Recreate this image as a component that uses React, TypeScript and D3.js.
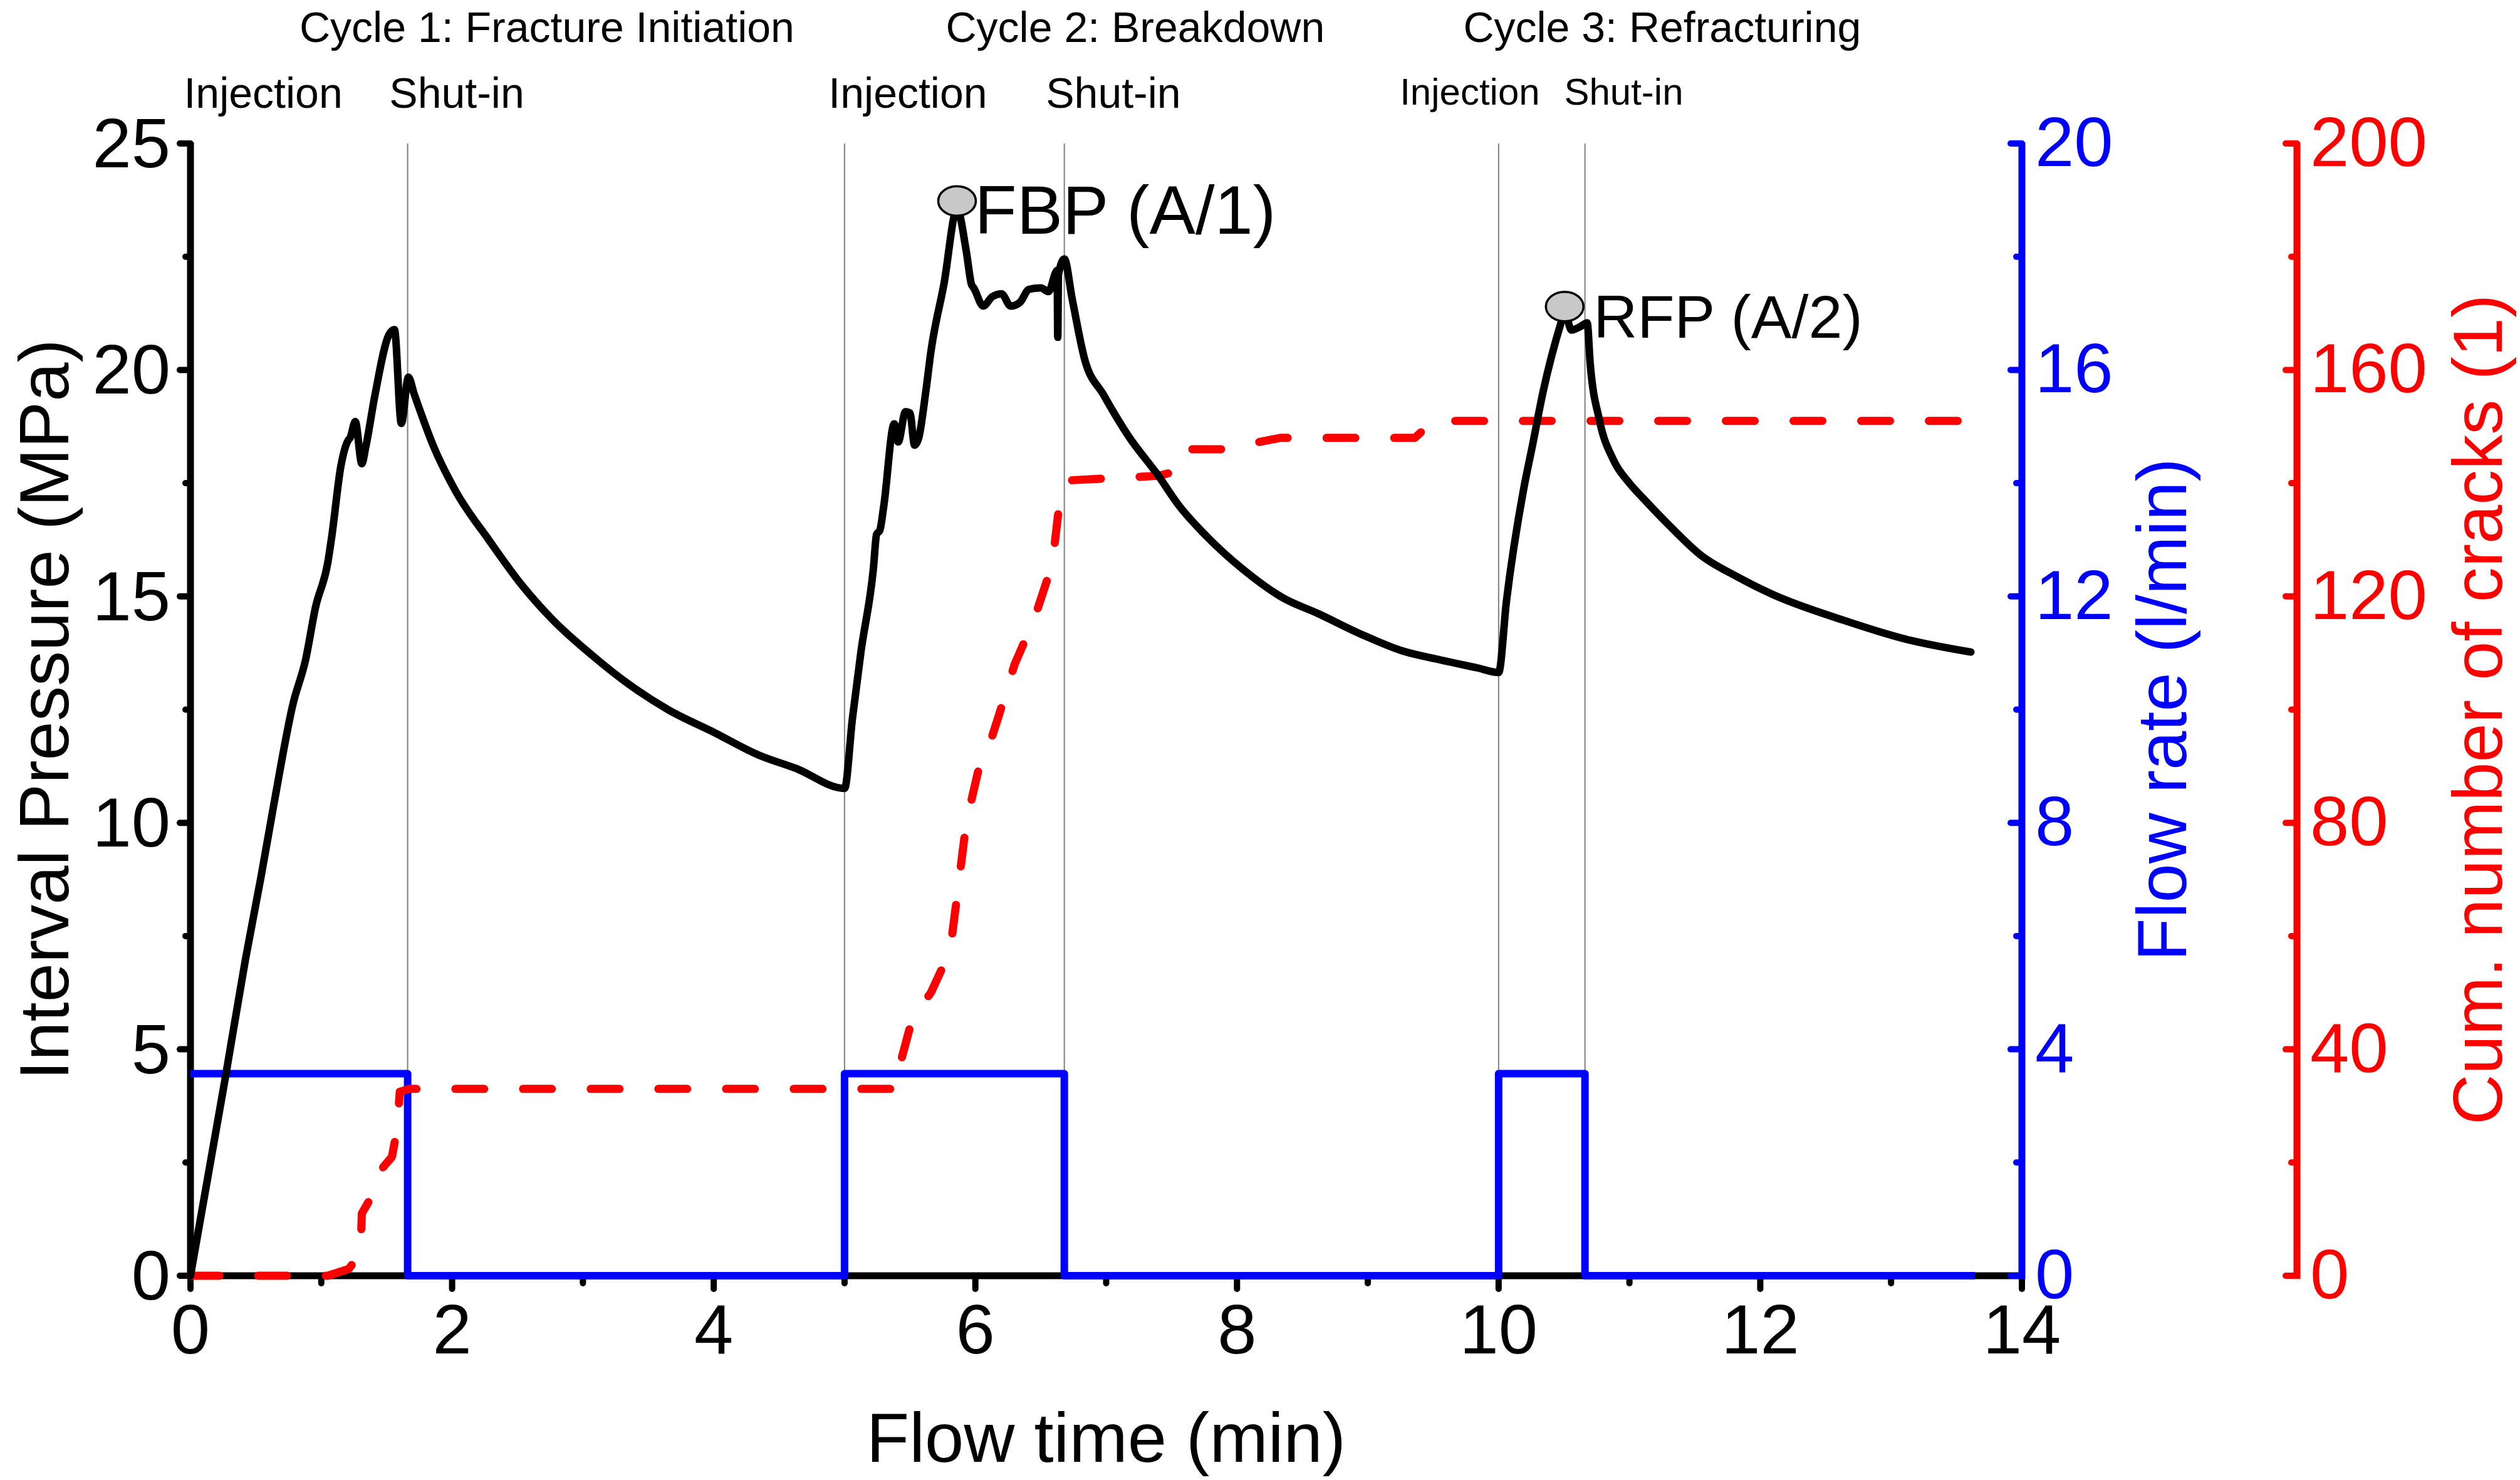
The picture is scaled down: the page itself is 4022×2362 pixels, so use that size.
import * as d3 from "d3";
import React from "react";

// pressure record (min, MPa)
const pressure: [number, number][] = [
  [0, 0], [0.27, 4.43], [0.42, 6.98], [0.54, 8.82], [0.64, 10.45], [0.785, 12.64],
  [0.88, 13.6], [0.956, 14.76], [1.05, 15.75], [1.08, 16.32], [1.15, 17.88],
  [1.206, 18.45], [1.22, 18.5], [1.26, 18.86], [1.31, 17.93], [1.34, 18.3],
  [1.41, 19.44], [1.516, 20.77], [1.559, 20.89], [1.612, 18.82], [1.666, 19.84],
  [1.71, 19.47], [1.86, 18.3], [2.03, 17.31], [2.28, 16.25], [2.53, 15.26],
  [2.77, 14.48], [3.07, 13.7], [3.36, 13.04], [3.65, 12.5], [4.0, 12.0],
  [4.34, 11.5], [4.63, 11.2], [5.0, 10.76],
  [5.06, 12.3], [5.125, 13.77], [5.22, 15.6], [5.245, 16.37], [5.27, 16.46],
  [5.3, 17.0], [5.38, 18.81], [5.41, 18.41], [5.466, 19.08], [5.5, 19.05],
  [5.535, 18.34], [5.566, 18.49], [5.62, 19.5], [5.66, 20.4], [5.76, 21.9],
  [5.86, 23.55], [5.93, 22.63], [5.97, 21.89], [5.99, 21.8], [6.06, 21.41],
  [6.13, 21.62], [6.2, 21.68], [6.27, 21.41], [6.34, 21.49], [6.41, 21.78],
  [6.5, 21.81], [6.56, 21.73], [6.615, 22.16], [6.625, 22.2], [6.63, 20.72],
  [6.635, 22.1], [6.68, 22.45], [6.74, 21.57], [6.835, 20.24], [6.98, 19.45],
  [7.17, 18.54], [7.4, 17.66], [7.55, 17.03], [7.77, 16.32], [8.04, 15.61],
  [8.35, 14.97], [8.62, 14.62], [8.96, 14.15], [9.26, 13.8], [9.55, 13.6],
  [9.84, 13.42], [10.0, 13.32],
  [10.06, 14.9], [10.19, 17.35], [10.26, 18.35], [10.34, 19.52], [10.48, 21.07],
  [10.505, 21.3], [10.556, 20.88], [10.62, 20.95], [10.677, 21.04], [10.7, 20.14],
  [10.77, 18.9], [10.88, 18.0], [11.0, 17.5], [11.11, 17.15], [11.31, 16.55],
  [11.55, 15.9], [11.82, 15.44], [12.09, 15.05], [12.63, 14.48], [13.12, 14.05],
  [13.61, 13.77],
];

// injection rate, stepwise (min, l/min)
const flow: [number, number][] = [
  [0, 3.57], [1.66, 0], [5.0, 3.57], [6.68, 0], [10.0, 3.57], [10.66, 0], [13.64, 0],
];

// cumulative AE crack count (min, count)
const cracks: [number, number][] = [
  [0, 0], [1.05, 0], [1.21, 1.2], [1.3, 4], [1.31, 11], [1.41, 15], [1.43, 18],
  [1.54, 21], [1.58, 26], [1.6, 32.5], [1.67, 33], [5.4, 33], [5.42, 37],
  [5.52, 45.6], [5.66, 50], [5.74, 54], [5.81, 58], [5.86, 67], [5.93, 80],
  [6.03, 90], [6.11, 94], [6.18, 99], [6.3, 108], [6.45, 116], [6.55, 123],
  [6.6, 128], [6.645, 137], [6.72, 140.5], [7.4, 141.3], [7.52, 142], [7.6, 146],
  [7.89, 146], [8.33, 148], [9.36, 148], [9.5, 151], [13.63, 151],
];

const phaseBounds = [1.66, 5.0, 6.68, 10.0, 10.66];

const cycleTitles = [
  { t: 2.725, text: "Cycle 1: Fracture Initiation" },
  { t: 7.222, text: "Cycle 2: Breakdown" },
  { t: 11.25, text: "Cycle 3: Refracturing" },
];

const phaseLabels = [
  { t: 0.556, text: "Injection", small: false },
  { t: 2.036, text: "Shut-in", small: false },
  { t: 5.484, text: "Injection", small: false },
  { t: 7.055, text: "Shut-in", small: false },
  { t: 9.78, text: "Injection", small: true },
  { t: 10.956, text: "Shut-in", small: true },
];

const peaks = [
  { t: 5.86, p: 23.73, label: "FBP (A/1)", size: 110, dx: 28, dy: 52 },
  { t: 10.505, p: 21.4, label: "RFP (A/2)", size: 97, dx: 46, dy: 50 },
];

const timeTicks = [0, 2, 4, 6, 8, 10, 12, 14];
const pressureTicks = [0, 5, 10, 15, 20, 25];
const flowTicks = [0, 4, 8, 12, 16, 20];
const crackTicks = [0, 40, 80, 120, 160, 200];

const W = 4022;
const H = 2362;
const FONT = "'Liberation Sans', Arial, Helvetica, sans-serif";
const BLUE = "#0000ff";
const RED = "#ff0000";

export default function App() {
  const x = d3.scaleLinear().domain([0, 14]).range([304, 3227]);
  const yP = d3.scaleLinear().domain([0, 25]).range([2036, 229]);
  const yF = d3.scaleLinear().domain([0, 20]).range([2036, 229]);
  const yC = d3.scaleLinear().domain([0, 200]).range([2036, 229]);

  const blueX = x(14);
  const redX = 3666;
  const bottom = yP(0);

  const pLine = d3.line<[number, number]>().x(d => x(d[0])).y(d => yP(d[1])).curve(d3.curveMonotoneX)(pressure) || "";
  const fLine = d3.line<[number, number]>().x(d => x(d[0])).y(d => yF(d[1])).curve(d3.curveStepAfter)(flow) || "";
  const cLine = d3.line<[number, number]>().x(d => x(d[0])).y(d => yC(d[1]))(cracks) || "";

  const minor = (ticks: number[]) => ticks.slice(0, -1).map((v, i) => (v + ticks[i + 1]) / 2);

  return (
    <svg width={W} height={H} style={{ position: "absolute", left: 0, top: 0, background: "#fff" }} fontFamily={FONT}>
      {/* phase separators */}
      {phaseBounds.map(t => (
        <line key={t} x1={x(t)} x2={x(t)} y1={yP(25)} y2={bottom} stroke="#808080" strokeWidth={2} />
      ))}

      {/* left axis */}
      <line x1={x(0)} x2={x(0)} y1={bottom + 5} y2={yP(25) - 2} stroke="#000" strokeWidth={11} />
      {pressureTicks.map(v => (
        <g key={v}>
          <line x1={x(0)} x2={x(0) - 17} y1={yP(v)} y2={yP(v)} stroke="#000" strokeWidth={10} strokeLinecap="round" />
          <text x={272} y={yP(v) + 38} fontSize={112} textAnchor="end">{v}</text>
        </g>
      ))}
      {minor(pressureTicks).map(v => (
        <line key={v} x1={x(0)} x2={x(0) - 8} y1={yP(v)} y2={yP(v)} stroke="#000" strokeWidth={10} strokeLinecap="round" />
      ))}

      {/* bottom axis */}
      <line x1={x(0) - 5} x2={blueX} y1={bottom} y2={bottom} stroke="#000" strokeWidth={11} />
      {timeTicks.map(v => (
        <g key={v}>
          <line x1={x(v)} x2={x(v)} y1={bottom} y2={bottom + 21} stroke="#000" strokeWidth={10} strokeLinecap="round" />
          <text x={x(v)} y={2160} fontSize={112} textAnchor="middle">{v}</text>
        </g>
      ))}
      {minor(timeTicks).map(v => (
        <line key={v} x1={x(v)} x2={x(v)} y1={bottom} y2={bottom + 12} stroke="#000" strokeWidth={10} strokeLinecap="round" />
      ))}

      {/* flow axis */}
      <line x1={blueX} x2={blueX} y1={bottom + 5} y2={yF(20) - 2} stroke={BLUE} strokeWidth={11} />
      {flowTicks.map(v => (
        <g key={v}>
          <line x1={blueX} x2={blueX - 18} y1={yF(v)} y2={yF(v)} stroke={BLUE} strokeWidth={10} strokeLinecap="round" />
          <text x={blueX + 21} y={yF(v) + 36} fontSize={112} fill={BLUE}>{v}</text>
        </g>
      ))}
      {minor(flowTicks).map(v => (
        <line key={v} x1={blueX} x2={blueX - 9} y1={yF(v)} y2={yF(v)} stroke={BLUE} strokeWidth={10} strokeLinecap="round" />
      ))}

      {/* crack axis */}
      <line x1={redX} x2={redX} y1={bottom + 5} y2={yC(200) - 2} stroke={RED} strokeWidth={11} />
      {crackTicks.map(v => (
        <g key={v}>
          <line x1={redX} x2={redX - 18} y1={yC(v)} y2={yC(v)} stroke={RED} strokeWidth={10} strokeLinecap="round" />
          <text x={redX + 21} y={yC(v) + 36} fontSize={112} fill={RED}>{v}</text>
        </g>
      ))}
      {minor(crackTicks).map(v => (
        <line key={v} x1={redX} x2={redX - 9} y1={yC(v)} y2={yC(v)} stroke={RED} strokeWidth={10} strokeLinecap="round" />
      ))}

      {/* series */}
      <path d={fLine} fill="none" stroke={BLUE} strokeWidth={12} strokeLinejoin="round" />
      <path d={cLine} fill="none" stroke={RED} strokeWidth={13} strokeDasharray="46 62" strokeLinecap="round" strokeLinejoin="round" />
      <path d={pLine} fill="none" stroke="#000" strokeWidth={12} strokeLinejoin="round" strokeLinecap="round" />

      {/* peak markers */}
      {peaks.map(pk => (
        <g key={pk.label}>
          <ellipse cx={x(pk.t)} cy={yP(pk.p)} rx={30} ry={23.5} fill="#c8c8c8" stroke="#000" strokeWidth={3.5} />
          <text x={x(pk.t) + pk.dx} y={yP(pk.p) + pk.dy} fontSize={pk.size}>{pk.label}</text>
        </g>
      ))}

      {/* annotations */}
      {cycleTitles.map(c => (
        <text key={c.text} x={x(c.t)} y={67} fontSize={68} textAnchor="middle">{c.text}</text>
      ))}
      {phaseLabels.map(p => (
        <text key={p.t} x={x(p.t)} y={p.small ? 167 : 172} fontSize={p.small ? 60 : 68} textAnchor="middle">{p.text}</text>
      ))}

      {/* axis titles */}
      <text x={(x(0) + x(14)) / 2} y={2333} fontSize={112} textAnchor="middle">Flow time (min)</text>
      <text transform={`translate(109,${(yP(0) + yP(25)) / 2}) rotate(-90)`} fontSize={112} textAnchor="middle">Interval Pressure (MPa)</text>
      <text transform={`translate(3489,${(yF(0) + yF(20)) / 2}) rotate(-90)`} fontSize={112} textAnchor="middle" fill={BLUE}>Flow rate (l/min)</text>
      <text transform={`translate(3993,${(yC(0) + yC(200)) / 2}) rotate(-90)`} fontSize={112} textAnchor="middle" fill={RED}>Cum. number of cracks (1)</text>
    </svg>
  );
}
